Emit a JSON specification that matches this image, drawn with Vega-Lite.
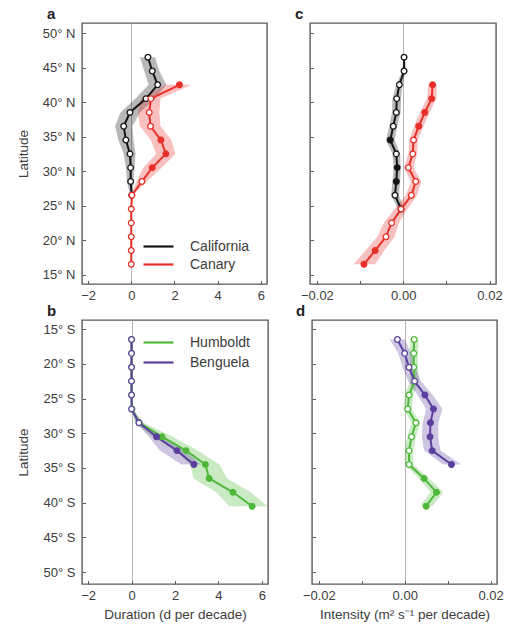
{
  "$schema": "https://vega.github.io/schema/vega-lite/v6.json",
  "background": "white",
  "padding": {"left": 15, "top": 6, "right": 0, "bottom": 0},
  "config": {
    "font": "Liberation Sans",
    "view": {"stroke": "#5a5a5a", "strokeWidth": 1.4},
    "axis": {
      "domain": false,
      "grid": false,
      "tickColor": "#5a5a5a",
      "tickSize": -3.5,
      "tickWidth": 1,
      "labelFontSize": 13,
      "labelColor": "#3c3c3c",
      "labelFlush": false,
      "labelOverlap": false,
      "titleFontSize": 13.5,
      "titleFontWeight": "normal",
      "titleColor": "#3c3c3c"
    },
    "axisX": {"labelPadding": 8.5},
    "axisY": {"labelPadding": 10.5},
    "title": {"anchor": "start", "frame": "group", "fontSize": 15, "fontWeight": "bold", "color": "#222222", "offset": 1, "baseline": "bottom"},
    "legend": {
      "orient": "none",
      "padding": 0,
      "title": null,
      "labelFontSize": 14,
      "labelColor": "#3c3c3c",
      "symbolType": "M-2,0L2,0",
      "symbolSize": 225,
      "symbolStrokeWidth": 2.2,
      "symbolOpacity": 1,
      "labelOffset": 22.5
    }
  },
  "datasets": {
    "dur_n": [
      {"region": "California", "lat": 46.5, "v": 0.77, "lo": 0.40, "hi": 1.10, "sig": false},
      {"region": "California", "lat": 44.5, "v": 0.97, "lo": 0.60, "hi": 1.30, "sig": false},
      {"region": "California", "lat": 42.5, "v": 1.22, "lo": 0.80, "hi": 1.62, "sig": false},
      {"region": "California", "lat": 40.5, "v": 0.68, "lo": 0.20, "hi": 1.10, "sig": false},
      {"region": "California", "lat": 38.5, "v": -0.06, "lo": -0.50, "hi": 0.40, "sig": false},
      {"region": "California", "lat": 36.5, "v": -0.35, "lo": -0.75, "hi": 0.05, "sig": false},
      {"region": "California", "lat": 34.5, "v": -0.25, "lo": -0.60, "hi": 0.10, "sig": false},
      {"region": "California", "lat": 32.5, "v": -0.06, "lo": -0.35, "hi": 0.20, "sig": false},
      {"region": "California", "lat": 30.5, "v": -0.03, "lo": -0.25, "hi": 0.15, "sig": false},
      {"region": "California", "lat": 28.5, "v": -0.03, "lo": -0.20, "hi": 0.10, "sig": false},
      {"region": "California", "lat": 26.5, "v": 0.02, "lo": -0.05, "hi": 0.08, "sig": false},
      {"region": "Canary", "lat": 42.5, "v": 2.23, "lo": 1.60, "hi": 2.80, "sig": true},
      {"region": "Canary", "lat": 40.5, "v": 0.91, "lo": 0.45, "hi": 1.35, "sig": false},
      {"region": "Canary", "lat": 38.5, "v": 0.83, "lo": 0.30, "hi": 1.30, "sig": false},
      {"region": "Canary", "lat": 36.5, "v": 0.89, "lo": 0.40, "hi": 1.35, "sig": false},
      {"region": "Canary", "lat": 34.5, "v": 1.37, "lo": 0.90, "hi": 1.85, "sig": true},
      {"region": "Canary", "lat": 32.5, "v": 1.60, "lo": 1.15, "hi": 2.05, "sig": true},
      {"region": "Canary", "lat": 30.5, "v": 0.97, "lo": 0.55, "hi": 1.40, "sig": true},
      {"region": "Canary", "lat": 28.5, "v": 0.49, "lo": 0.25, "hi": 0.72, "sig": false},
      {"region": "Canary", "lat": 26.5, "v": 0.03, "lo": 0.00, "hi": 0.07, "sig": false},
      {"region": "Canary", "lat": 24.5, "v": 0, "lo": 0, "hi": 0, "sig": false},
      {"region": "Canary", "lat": 22.5, "v": 0, "lo": 0, "hi": 0, "sig": false},
      {"region": "Canary", "lat": 20.5, "v": 0, "lo": 0, "hi": 0, "sig": false},
      {"region": "Canary", "lat": 18.5, "v": 0, "lo": 0, "hi": 0, "sig": false},
      {"region": "Canary", "lat": 16.5, "v": 0, "lo": 0, "hi": 0, "sig": false}
    ],
    "dur_s": [
      {"region": "Humboldt", "lat": -16.5, "v": 0, "lo": 0, "hi": 0, "sig": false},
      {"region": "Humboldt", "lat": -18.5, "v": 0, "lo": 0, "hi": 0, "sig": false},
      {"region": "Humboldt", "lat": -20.5, "v": 0, "lo": 0, "hi": 0, "sig": false},
      {"region": "Humboldt", "lat": -22.5, "v": 0, "lo": 0, "hi": 0, "sig": false},
      {"region": "Humboldt", "lat": -24.5, "v": 0, "lo": 0, "hi": 0, "sig": false},
      {"region": "Humboldt", "lat": -26.5, "v": 0.02, "lo": 0, "hi": 0.06, "sig": false},
      {"region": "Humboldt", "lat": -28.5, "v": 0.35, "lo": 0.15, "hi": 0.55, "sig": false},
      {"region": "Humboldt", "lat": -30.5, "v": 1.40, "lo": 0.95, "hi": 1.90, "sig": true},
      {"region": "Humboldt", "lat": -32.5, "v": 2.51, "lo": 2.00, "hi": 3.05, "sig": true},
      {"region": "Humboldt", "lat": -34.5, "v": 3.40, "lo": 2.70, "hi": 4.05, "sig": true},
      {"region": "Humboldt", "lat": -36.5, "v": 3.57, "lo": 2.85, "hi": 4.40, "sig": true},
      {"region": "Humboldt", "lat": -38.5, "v": 4.67, "lo": 3.90, "hi": 5.50, "sig": true},
      {"region": "Humboldt", "lat": -40.5, "v": 5.55, "lo": 4.50, "hi": 6.25, "sig": true},
      {"region": "Benguela", "lat": -16.5, "v": 0, "lo": 0, "hi": 0, "sig": false},
      {"region": "Benguela", "lat": -18.5, "v": 0, "lo": 0, "hi": 0, "sig": false},
      {"region": "Benguela", "lat": -20.5, "v": 0, "lo": 0, "hi": 0, "sig": false},
      {"region": "Benguela", "lat": -22.5, "v": 0, "lo": 0, "hi": 0, "sig": false},
      {"region": "Benguela", "lat": -24.5, "v": 0, "lo": 0, "hi": 0, "sig": false},
      {"region": "Benguela", "lat": -26.5, "v": 0, "lo": 0, "hi": 0.02, "sig": false},
      {"region": "Benguela", "lat": -28.5, "v": 0.34, "lo": 0.20, "hi": 0.50, "sig": false},
      {"region": "Benguela", "lat": -30.5, "v": 1.15, "lo": 0.80, "hi": 1.45, "sig": true},
      {"region": "Benguela", "lat": -32.5, "v": 2.09, "lo": 1.30, "hi": 2.45, "sig": true},
      {"region": "Benguela", "lat": -34.5, "v": 2.87, "lo": 2.30, "hi": 3.20, "sig": true}
    ],
    "int_n": [
      {"region": "California", "lat": 46.5, "v": 0.0002, "lo": 0.0000, "hi": 0.0004, "sig": false},
      {"region": "California", "lat": 44.5, "v": 0.0002, "lo": -0.0002, "hi": 0.0006, "sig": false},
      {"region": "California", "lat": 42.5, "v": -0.0009, "lo": -0.0016, "hi": -0.0002, "sig": false},
      {"region": "California", "lat": 40.5, "v": -0.0015, "lo": -0.0025, "hi": -0.0005, "sig": false},
      {"region": "California", "lat": 38.5, "v": -0.0016, "lo": -0.0026, "hi": -0.0006, "sig": false},
      {"region": "California", "lat": 36.5, "v": -0.0023, "lo": -0.0032, "hi": -0.0014, "sig": false},
      {"region": "California", "lat": 34.5, "v": -0.0030, "lo": -0.0040, "hi": -0.0020, "sig": true},
      {"region": "California", "lat": 32.5, "v": -0.0016, "lo": -0.0025, "hi": -0.0007, "sig": false},
      {"region": "California", "lat": 30.5, "v": -0.0014, "lo": -0.0022, "hi": -0.0006, "sig": true},
      {"region": "California", "lat": 28.5, "v": -0.0016, "lo": -0.0025, "hi": -0.0007, "sig": true},
      {"region": "California", "lat": 26.5, "v": -0.0019, "lo": -0.0028, "hi": -0.0010, "sig": false},
      {"region": "California", "lat": 24.5, "v": -0.0005, "lo": -0.0012, "hi": 0.0002, "sig": false},
      {"region": "Canary", "lat": 42.5, "v": 0.0068, "lo": 0.0058, "hi": 0.0078, "sig": true},
      {"region": "Canary", "lat": 40.5, "v": 0.0066, "lo": 0.0055, "hi": 0.0077, "sig": true},
      {"region": "Canary", "lat": 38.5, "v": 0.0050, "lo": 0.0039, "hi": 0.0061, "sig": true},
      {"region": "Canary", "lat": 36.5, "v": 0.0036, "lo": 0.0025, "hi": 0.0047, "sig": true},
      {"region": "Canary", "lat": 34.5, "v": 0.0024, "lo": 0.0014, "hi": 0.0034, "sig": false},
      {"region": "Canary", "lat": 32.5, "v": 0.0022, "lo": 0.0012, "hi": 0.0032, "sig": false},
      {"region": "Canary", "lat": 30.5, "v": 0.0012, "lo": 0.0002, "hi": 0.0024, "sig": false},
      {"region": "Canary", "lat": 28.5, "v": 0.0029, "lo": 0.0018, "hi": 0.0042, "sig": false},
      {"region": "Canary", "lat": 26.5, "v": 0.0019, "lo": 0.0006, "hi": 0.0032, "sig": false},
      {"region": "Canary", "lat": 24.5, "v": -0.0005, "lo": -0.0020, "hi": 0.0010, "sig": false},
      {"region": "Canary", "lat": 22.5, "v": -0.0027, "lo": -0.0045, "hi": -0.0010, "sig": false},
      {"region": "Canary", "lat": 20.5, "v": -0.0040, "lo": -0.0060, "hi": -0.0020, "sig": false},
      {"region": "Canary", "lat": 18.5, "v": -0.0065, "lo": -0.0087, "hi": -0.0044, "sig": true},
      {"region": "Canary", "lat": 16.5, "v": -0.0091, "lo": -0.0115, "hi": -0.0065, "sig": true}
    ],
    "int_s": [
      {"region": "Humboldt", "lat": -16.5, "v": 0.0022, "lo": 0.0012, "hi": 0.0032, "sig": false},
      {"region": "Humboldt", "lat": -18.5, "v": 0.0021, "lo": 0.0011, "hi": 0.0031, "sig": false},
      {"region": "Humboldt", "lat": -20.5, "v": 0.0021, "lo": 0.0011, "hi": 0.0031, "sig": false},
      {"region": "Humboldt", "lat": -22.5, "v": 0.0023, "lo": 0.0013, "hi": 0.0033, "sig": false},
      {"region": "Humboldt", "lat": -24.5, "v": 0.0010, "lo": 0.0000, "hi": 0.0020, "sig": false},
      {"region": "Humboldt", "lat": -26.5, "v": 0.0007, "lo": -0.0003, "hi": 0.0017, "sig": false},
      {"region": "Humboldt", "lat": -28.5, "v": 0.0026, "lo": 0.0016, "hi": 0.0036, "sig": false},
      {"region": "Humboldt", "lat": -30.5, "v": 0.0016, "lo": 0.0006, "hi": 0.0026, "sig": false},
      {"region": "Humboldt", "lat": -32.5, "v": 0.0010, "lo": 0.0000, "hi": 0.0020, "sig": false},
      {"region": "Humboldt", "lat": -34.5, "v": 0.0010, "lo": 0.0000, "hi": 0.0020, "sig": false},
      {"region": "Humboldt", "lat": -36.5, "v": 0.0045, "lo": 0.0033, "hi": 0.0057, "sig": true},
      {"region": "Humboldt", "lat": -38.5, "v": 0.0074, "lo": 0.0060, "hi": 0.0090, "sig": true},
      {"region": "Humboldt", "lat": -40.5, "v": 0.0050, "lo": 0.0035, "hi": 0.0065, "sig": true},
      {"region": "Benguela", "lat": -16.5, "v": -0.0017, "lo": -0.0035, "hi": 0.0000, "sig": false},
      {"region": "Benguela", "lat": -18.5, "v": 0.0000, "lo": -0.0015, "hi": 0.0015, "sig": false},
      {"region": "Benguela", "lat": -20.5, "v": 0.0010, "lo": -0.0005, "hi": 0.0025, "sig": false},
      {"region": "Benguela", "lat": -22.5, "v": 0.0023, "lo": 0.0008, "hi": 0.0038, "sig": false},
      {"region": "Benguela", "lat": -24.5, "v": 0.0047, "lo": 0.0030, "hi": 0.0065, "sig": true},
      {"region": "Benguela", "lat": -26.5, "v": 0.0067, "lo": 0.0050, "hi": 0.0088, "sig": true},
      {"region": "Benguela", "lat": -28.5, "v": 0.0060, "lo": 0.0042, "hi": 0.0078, "sig": true},
      {"region": "Benguela", "lat": -30.5, "v": 0.0059, "lo": 0.0040, "hi": 0.0078, "sig": true},
      {"region": "Benguela", "lat": -32.5, "v": 0.0064, "lo": 0.0045, "hi": 0.0083, "sig": true},
      {"region": "Benguela", "lat": -34.5, "v": 0.0109, "lo": 0.0090, "hi": 0.0132, "sig": true}
    ]
  },
  "spacing": 0,
  "resolve": {"scale": {"color": "independent", "fill": "independent", "stroke": "independent"}},
  "vconcat": [
    {
      "spacing": 26,
      "resolve": {"scale": {"color": "independent", "fill": "independent", "stroke": "independent"}},
      "hconcat": [
        {
          "width": 185,
          "height": 261,
          "title": {"text": "a", "dx": -35},
          "data": {"name": "dur_n"},
          "encoding": {
            "y": {"field": "lat", "type": "quantitative", "scale": {"domain": [13.65, 51.45], "nice": false, "zero": false},
                  "axis": {"values": [15, 20, 25, 30, 35, 40, 45, 50], "labelExpr": "datum.value + '° N'", "title": "Latitude", "titleX": -52}}
          },
          "layer": [
            {
              "mark": {"type": "area", "orient": "horizontal", "opacity": 0.3},
              "encoding": {
                "x": {"field": "lo", "type": "quantitative", "scale": {"domain": [-2.28, 6.28], "nice": false, "zero": false},
                      "axis": {"values": [-2, 0, 2, 4, 6], "format": "d", "title": null, "grid": true, "gridColor": "#b5b5b5",
                               "gridOpacity": {"condition": {"test": "datum.value === 0", "value": 1}, "value": 0}}},
                "x2": {"field": "hi"},
                "color": {"field": "region", "type": "nominal", "scale": {"domain": ["California", "Canary"], "range": ["#151515", "#e8302a"]},
                          "legend": {"legendX": 67.5, "legendY": 214.5, "rowPadding": 2}}
              }
            },
            {
              "mark": {"type": "line", "strokeWidth": 2},
              "encoding": {
                "x": {"field": "v", "type": "quantitative", "scale": {"domain": [-2.28, 6.28], "nice": false, "zero": false},
                      "axis": {"values": [-2, 0, 2, 4, 6], "format": "d", "title": null, "grid": true, "gridColor": "#b5b5b5",
                               "gridOpacity": {"condition": {"test": "datum.value === 0", "value": 1}, "value": 0}}},
                "order": {"field": "lat"},
                "color": {"field": "region", "type": "nominal", "scale": {"domain": ["California", "Canary"], "range": ["#151515", "#e8302a"]},
                          "legend": {"legendX": 67.5, "legendY": 214.5, "rowPadding": 2}}
              }
            },
            {
              "mark": {"type": "point", "shape": "circle", "size": 32, "strokeWidth": 1.3, "opacity": 1},
              "encoding": {
                "x": {"field": "v", "type": "quantitative", "scale": {"domain": [-2.28, 6.28], "nice": false, "zero": false},
                      "axis": {"values": [-2, 0, 2, 4, 6], "format": "d", "title": null, "grid": true, "gridColor": "#b5b5b5",
                               "gridOpacity": {"condition": {"test": "datum.value === 0", "value": 1}, "value": 0}}},
                "stroke": {"field": "region", "type": "nominal", "scale": {"domain": ["California", "Canary"], "range": ["#151515", "#e8302a"]}, "legend": null},
                "fill": {"condition": {"test": "datum.sig", "field": "region", "type": "nominal", "scale": {"domain": ["California", "Canary"], "range": ["#151515", "#e8302a"]}, "legend": null}, "value": "white"}
              }
            }
          ]
        },
        {
          "width": 186,
          "height": 261,
          "title": {"text": "c", "dx": -15},
          "data": {"name": "int_n"},
          "encoding": {
            "y": {"field": "lat", "type": "quantitative", "scale": {"domain": [13.65, 51.45], "nice": false, "zero": false},
                  "axis": {"values": [15, 20, 25, 30, 35, 40, 45, 50], "labels": false, "title": null}}
          },
          "layer": [
            {
              "mark": {"type": "area", "orient": "horizontal", "opacity": 0.3},
              "encoding": {
                "x": {"field": "lo", "type": "quantitative", "scale": {"domain": [-0.0216, 0.0215], "nice": false, "zero": false},
                      "axis": {"values": [-0.02, -0.01, 0, 0.01, 0.02], "labelExpr": "abs(datum.value) > 0.015 || datum.value === 0 ? format(datum.value, '.2f') : ''",
                               "title": null, "grid": true, "gridColor": "#b5b5b5",
                               "gridOpacity": {"condition": {"test": "datum.value === 0", "value": 1}, "value": 0}}},
                "x2": {"field": "hi"},
                "color": {"field": "region", "type": "nominal", "scale": {"domain": ["California", "Canary"], "range": ["#151515", "#e8302a"]}, "legend": null}
              }
            },
            {
              "mark": {"type": "line", "strokeWidth": 2},
              "encoding": {
                "x": {"field": "v", "type": "quantitative", "scale": {"domain": [-0.0216, 0.0215], "nice": false, "zero": false},
                      "axis": {"values": [-0.02, -0.01, 0, 0.01, 0.02], "labelExpr": "abs(datum.value) > 0.015 || datum.value === 0 ? format(datum.value, '.2f') : ''",
                               "title": null, "grid": true, "gridColor": "#b5b5b5",
                               "gridOpacity": {"condition": {"test": "datum.value === 0", "value": 1}, "value": 0}}},
                "order": {"field": "lat"},
                "color": {"field": "region", "type": "nominal", "scale": {"domain": ["California", "Canary"], "range": ["#151515", "#e8302a"]}, "legend": null}
              }
            },
            {
              "mark": {"type": "point", "shape": "circle", "size": 32, "strokeWidth": 1.3, "opacity": 1},
              "encoding": {
                "x": {"field": "v", "type": "quantitative", "scale": {"domain": [-0.0216, 0.0215], "nice": false, "zero": false},
                      "axis": {"values": [-0.02, -0.01, 0, 0.01, 0.02], "labelExpr": "abs(datum.value) > 0.015 || datum.value === 0 ? format(datum.value, '.2f') : ''",
                               "title": null, "grid": true, "gridColor": "#b5b5b5",
                               "gridOpacity": {"condition": {"test": "datum.value === 0", "value": 1}, "value": 0}}},
                "stroke": {"field": "region", "type": "nominal", "scale": {"domain": ["California", "Canary"], "range": ["#151515", "#e8302a"]}, "legend": null},
                "fill": {"condition": {"test": "datum.sig", "field": "region", "type": "nominal", "scale": {"domain": ["California", "Canary"], "range": ["#151515", "#e8302a"]}, "legend": null}, "value": "white"}
              }
            }
          ]
        }
      ]
    },
    {
      "spacing": 26,
      "resolve": {"scale": {"color": "independent", "fill": "independent", "stroke": "independent"}},
      "hconcat": [
        {
          "width": 186,
          "height": 264,
          "title": {"text": "b", "dx": -35},
          "data": {"name": "dur_s"},
          "encoding": {
            "y": {"field": "lat", "type": "quantitative", "scale": {"domain": [-51.7, -13.7], "nice": false, "zero": false},
                  "axis": {"values": [-50, -45, -40, -35, -30, -25, -20, -15], "labelExpr": "abs(datum.value) + '° S'", "title": "Latitude", "titleX": -52}}
          },
          "layer": [
            {
              "mark": {"type": "area", "orient": "horizontal", "opacity": 0.3},
              "encoding": {
                "x": {"field": "lo", "type": "quantitative", "scale": {"domain": [-2.28, 6.28], "nice": false, "zero": false},
                      "axis": {"values": [-2, 0, 2, 4, 6], "format": "d", "title": "Duration (d per decade)", "titlePadding": 5, "grid": true, "gridColor": "#b5b5b5",
                               "gridOpacity": {"condition": {"test": "datum.value === 0", "value": 1}, "value": 0}}},
                "x2": {"field": "hi"},
                "color": {"field": "region", "type": "nominal", "scale": {"domain": ["Humboldt", "Benguela"], "range": ["#4fb83b", "#5b3f9e"]},
                          "legend": {"legendX": 67.5, "legendY": 13.5, "rowPadding": 4}}
              }
            },
            {
              "mark": {"type": "line", "strokeWidth": 2},
              "encoding": {
                "x": {"field": "v", "type": "quantitative", "scale": {"domain": [-2.28, 6.28], "nice": false, "zero": false},
                      "axis": {"values": [-2, 0, 2, 4, 6], "format": "d", "title": "Duration (d per decade)", "titlePadding": 5, "grid": true, "gridColor": "#b5b5b5",
                               "gridOpacity": {"condition": {"test": "datum.value === 0", "value": 1}, "value": 0}}},
                "order": {"field": "lat"},
                "color": {"field": "region", "type": "nominal", "scale": {"domain": ["Humboldt", "Benguela"], "range": ["#4fb83b", "#5b3f9e"]},
                          "legend": {"legendX": 67.5, "legendY": 13.5, "rowPadding": 4}}
              }
            },
            {
              "mark": {"type": "point", "shape": "circle", "size": 32, "strokeWidth": 1.3, "opacity": 1},
              "encoding": {
                "x": {"field": "v", "type": "quantitative", "scale": {"domain": [-2.28, 6.28], "nice": false, "zero": false},
                      "axis": {"values": [-2, 0, 2, 4, 6], "format": "d", "title": "Duration (d per decade)", "titlePadding": 5, "grid": true, "gridColor": "#b5b5b5",
                               "gridOpacity": {"condition": {"test": "datum.value === 0", "value": 1}, "value": 0}}},
                "stroke": {"field": "region", "type": "nominal", "scale": {"domain": ["Humboldt", "Benguela"], "range": ["#4fb83b", "#5b3f9e"]}, "legend": null},
                "fill": {"condition": {"test": "datum.sig", "field": "region", "type": "nominal", "scale": {"domain": ["Humboldt", "Benguela"], "range": ["#4fb83b", "#5b3f9e"]}, "legend": null}, "value": "white"}
              }
            }
          ]
        },
        {
          "width": 185,
          "height": 264,
          "title": {"text": "d", "dx": -16},
          "data": {"name": "int_s"},
          "encoding": {
            "y": {"field": "lat", "type": "quantitative", "scale": {"domain": [-51.7, -13.7], "nice": false, "zero": false},
                  "axis": {"values": [-50, -45, -40, -35, -30, -25, -20, -15], "labels": false, "title": null}}
          },
          "layer": [
            {
              "mark": {"type": "area", "orient": "horizontal", "opacity": 0.3},
              "encoding": {
                "x": {"field": "lo", "type": "quantitative", "scale": {"domain": [-0.0216, 0.0215], "nice": false, "zero": false},
                      "axis": {"values": [-0.02, -0.01, 0, 0.01, 0.02], "labelExpr": "abs(datum.value) > 0.015 || datum.value === 0 ? format(datum.value, '.2f') : ''",
                               "title": "Intensity (m² s⁻¹ per decade)", "titlePadding": 5, "grid": true, "gridColor": "#b5b5b5",
                               "gridOpacity": {"condition": {"test": "datum.value === 0", "value": 1}, "value": 0}}},
                "x2": {"field": "hi"},
                "color": {"field": "region", "type": "nominal", "scale": {"domain": ["Humboldt", "Benguela"], "range": ["#4fb83b", "#5b3f9e"]}, "legend": null}
              }
            },
            {
              "mark": {"type": "line", "strokeWidth": 2},
              "encoding": {
                "x": {"field": "v", "type": "quantitative", "scale": {"domain": [-0.0216, 0.0215], "nice": false, "zero": false},
                      "axis": {"values": [-0.02, -0.01, 0, 0.01, 0.02], "labelExpr": "abs(datum.value) > 0.015 || datum.value === 0 ? format(datum.value, '.2f') : ''",
                               "title": "Intensity (m² s⁻¹ per decade)", "titlePadding": 5, "grid": true, "gridColor": "#b5b5b5",
                               "gridOpacity": {"condition": {"test": "datum.value === 0", "value": 1}, "value": 0}}},
                "order": {"field": "lat"},
                "color": {"field": "region", "type": "nominal", "scale": {"domain": ["Humboldt", "Benguela"], "range": ["#4fb83b", "#5b3f9e"]}, "legend": null}
              }
            },
            {
              "mark": {"type": "point", "shape": "circle", "size": 32, "strokeWidth": 1.3, "opacity": 1},
              "encoding": {
                "x": {"field": "v", "type": "quantitative", "scale": {"domain": [-0.0216, 0.0215], "nice": false, "zero": false},
                      "axis": {"values": [-0.02, -0.01, 0, 0.01, 0.02], "labelExpr": "abs(datum.value) > 0.015 || datum.value === 0 ? format(datum.value, '.2f') : ''",
                               "title": "Intensity (m² s⁻¹ per decade)", "titlePadding": 5, "grid": true, "gridColor": "#b5b5b5",
                               "gridOpacity": {"condition": {"test": "datum.value === 0", "value": 1}, "value": 0}}},
                "stroke": {"field": "region", "type": "nominal", "scale": {"domain": ["Humboldt", "Benguela"], "range": ["#4fb83b", "#5b3f9e"]}, "legend": null},
                "fill": {"condition": {"test": "datum.sig", "field": "region", "type": "nominal", "scale": {"domain": ["Humboldt", "Benguela"], "range": ["#4fb83b", "#5b3f9e"]}, "legend": null}, "value": "white"}
              }
            }
          ]
        }
      ]
    }
  ]
}
